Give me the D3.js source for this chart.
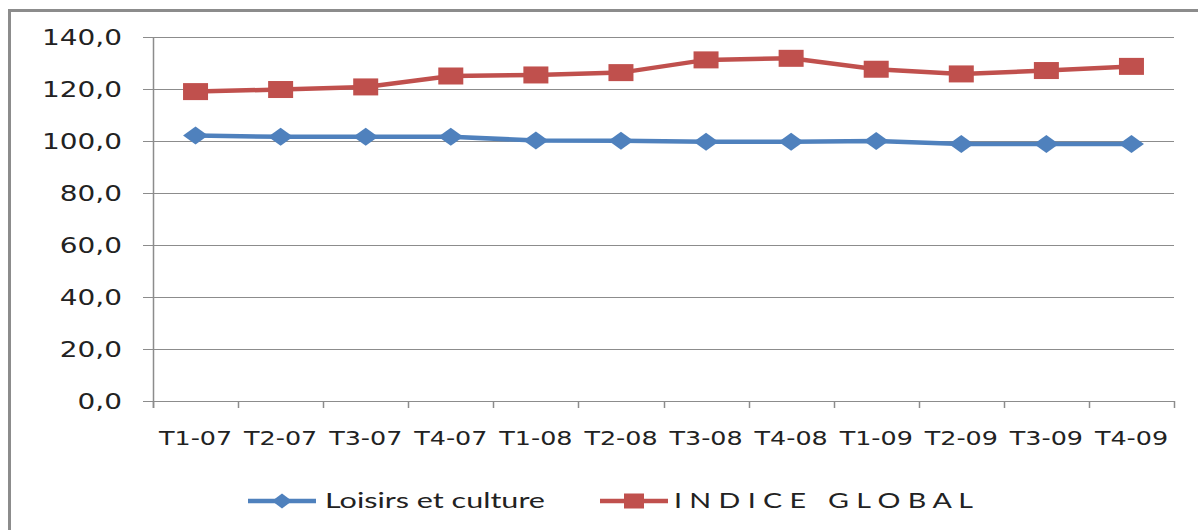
<!DOCTYPE html>
<html>
<head>
<meta charset="utf-8">
<script src="https://cdnjs.cloudflare.com/ajax/libs/d3/7.8.5/d3.min.js"></script>
<style>
  body { margin: 0; background: #fff; }
  svg { display: block; }
</style>
</head>
<body>
<div id="chart"></div>
<script>
var categories = ["T1-07", "T2-07", "T3-07", "T4-07", "T1-08", "T2-08", "T3-08", "T4-08", "T1-09", "T2-09", "T3-09", "T4-09"];
var loisirs = [102.1, 101.6, 101.6, 101.6, 100.2, 100.1, 99.7, 99.7, 100.0, 98.8, 98.8, 98.8];
var indiceGlobal = [119.0, 119.8, 120.8, 125.0, 125.4, 126.3, 131.2, 131.8, 127.6, 125.8, 127.1, 128.7];
var yTicks = [0, 20, 40, 60, 80, 100, 120, 140];
var seriesNames = ["Loisirs et culture", "I N D I C E   G L O B A L"];

var W = 1198, H = 530;
var blue = "#4f81bd", red = "#c0504d", gridColor = "#8c8c8c";

var svg = d3.select("#chart")
  .append("svg")
    .attr("width", W)
    .attr("height", H);

// chart frame (runs off the right and bottom edges)
svg.append("rect")
  .attr("x", 9.5)
  .attr("y", 10.5)
  .attr("width", W + 20)
  .attr("height", H + 20)
  .attr("fill", "#fff")
  .attr("stroke", gridColor)
  .attr("stroke-width", 3);

var x = d3.scaleBand()
  .domain(categories)
  .range([153, 1174])
  .padding(0);

var y = d3.scaleLinear()
  .domain([0, 140])
  .range([401, 37]);

// horizontal gridlines + y tick labels
svg.append("g")
  .selectAll("line")
  .data(yTicks)
  .enter()
  .append("line")
    .attr("x1", 143)
    .attr("x2", 1174)
    .attr("y1", function(d) { return Math.round(y(d)) + 0.5; })
    .attr("y2", function(d) { return Math.round(y(d)) + 0.5; })
    .attr("stroke", gridColor)
    .attr("stroke-width", 1.2);

svg.append("g")
  .selectAll("text")
  .data(yTicks)
  .enter()
  .append("text")
    .attr("transform", function(d) { return "translate(122," + (y(d) + 7.5) + ") scale(1.33,1)"; })
    .attr("text-anchor", "end")
    .attr("font-family", "DejaVu Sans, Verdana, sans-serif")
    .attr("font-size", "21px")
    .attr("fill", "#222")
    .text(function(d) { return d3.format(".1f")(d).replace(".", ","); });

// y axis line
svg.append("line")
  .attr("x1", 153.5).attr("x2", 153.5)
  .attr("y1", 37).attr("y2", 408)
  .attr("stroke", gridColor)
  .attr("stroke-width", 1.5);

// x ticks at band edges
var edges = categories.map(function(c) { return x(c); }).concat([x.range()[1]]);
svg.append("g")
  .selectAll("line")
  .data(edges)
  .enter()
  .append("line")
    .attr("x1", function(d) { return Math.round(d) + 0.5; })
    .attr("x2", function(d) { return Math.round(d) + 0.5; })
    .attr("y1", 401)
    .attr("y2", 408)
    .attr("stroke", gridColor)
    .attr("stroke-width", 1.5);

svg.append("g")
  .selectAll("text")
  .data(categories)
  .enter()
  .append("text")
    .attr("transform", function(d) { return "translate(" + (x(d) + x.bandwidth() / 2) + ",445) scale(1.27,1)"; })
    .attr("text-anchor", "middle")
    .attr("font-family", "DejaVu Sans, Verdana, sans-serif")
    .attr("font-size", "20px")
    .attr("fill", "#222")
    .text(function(d) { return d; });

var cx = function(d, i) { return x(categories[i]) + x.bandwidth() / 2; };
var line = d3.line()
  .x(function(d, i) { return cx(d, i); })
  .y(function(d) { return y(d); });

function diamond(w, h) {
  return "M0," + (-h / 2) + "L" + (w / 2) + ",0L0," + (h / 2) + "L" + (-w / 2) + ",0Z";
}

// Loisirs et culture
svg.append("path")
  .datum(loisirs)
  .attr("d", line)
  .attr("fill", "none")
  .attr("stroke", blue)
  .attr("stroke-width", 4.5);

svg.append("g")
  .selectAll("path")
  .data(loisirs)
  .enter()
  .append("path")
    .attr("transform", function(d, i) { return "translate(" + cx(d, i) + "," + y(d) + ")"; })
    .attr("d", diamond(25, 18))
    .attr("fill", blue);

// INDICE GLOBAL
svg.append("path")
  .datum(indiceGlobal)
  .attr("d", line)
  .attr("fill", "none")
  .attr("stroke", red)
  .attr("stroke-width", 4.5);

svg.append("g")
  .selectAll("rect")
  .data(indiceGlobal)
  .enter()
  .append("rect")
    .attr("x", function(d, i) { return cx(d, i) - 12.5; })
    .attr("y", function(d) { return y(d) - 8.5; })
    .attr("width", 25)
    .attr("height", 17)
    .attr("fill", red);

// legend
var legY = 501;
var legend = svg.append("g");

legend.append("line")
  .attr("x1", 248).attr("x2", 316)
  .attr("y1", legY).attr("y2", legY)
  .attr("stroke", blue).attr("stroke-width", 4.5);
legend.append("path")
  .attr("transform", "translate(282," + legY + ")")
  .attr("d", diamond(20, 15))
  .attr("fill", blue);
legend.append("text")
  .attr("x", 325)
  .attr("y", legY + 7)
  .attr("font-family", "Lato, Open Sans, sans-serif")
  .attr("font-size", "21px")
  .attr("fill", "#222")
  .attr("textLength", 220)
  .attr("lengthAdjust", "spacingAndGlyphs")
  .text(seriesNames[0]);

legend.append("line")
  .attr("x1", 600).attr("x2", 668)
  .attr("y1", legY).attr("y2", legY)
  .attr("stroke", red).attr("stroke-width", 4.5);
legend.append("rect")
  .attr("x", 624).attr("y", legY - 7.5)
  .attr("width", 20).attr("height", 15)
  .attr("fill", red);
legend.append("text")
  .attr("x", 674)
  .attr("y", legY + 7)
  .attr("font-family", "Lato, Open Sans, sans-serif")
  .attr("font-size", "21px")
  .attr("fill", "#222")
  .attr("textLength", 299)
  .attr("lengthAdjust", "spacingAndGlyphs")
  .attr("xml:space", "preserve")
  .style("white-space", "pre")
  .text(seriesNames[1]);
</script>
</body>
</html>
